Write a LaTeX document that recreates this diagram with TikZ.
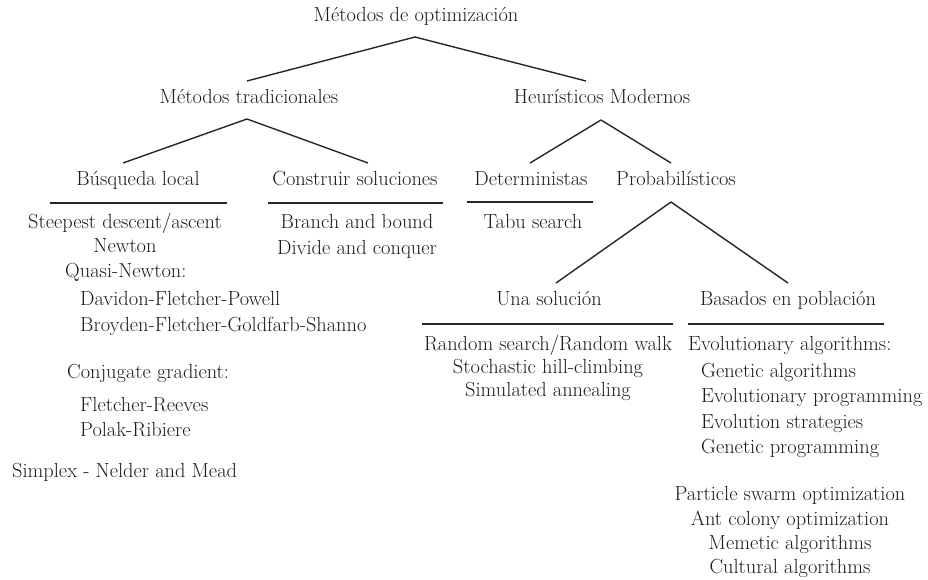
\documentclass[tikz,border=0pt]{standalone}
\usetikzlibrary{calc}
\definecolor{ink}{HTML}{1A1A26}
\definecolor{lin}{HTML}{262626}
\begin{document}
\begin{tikzpicture}[x=1pt,y=-1pt,
  lbl/.style={inner sep=0pt,text=ink,font=\fontsize{20.4}{24}\selectfont},
  c/.style={lbl,anchor=mid},
  l/.style={lbl,anchor=mid west},
  conn/.style={draw=lin,line width=1.4pt},
  rule/.style={draw=lin,line width=2pt}]
\useasboundingbox (0,0) rectangle (928,579);
% headers
\node[c] (root) at (416,19) {Métodos de optimización};
\node[c] (trad) at (249,101) {Métodos tradicionales};
\node[c] (heur) at (602,101) {Heurísticos Modernos};
\node[c] (busq) at (138,183) {Búsqueda local};
\node[c] (constr) at (355,183) {Construir soluciones};
\node[c] (det) at (531,183) {Deterministas};
\node[c] (prob) at (676,183) {Probabilísticos};
\node[c] (una) at (549,303) {Una solución};
\node[c] (bas) at (788,303) {Basados en población};
% connectors
\draw[conn] ($(root.mid)+(-1,18)$) -- ($(trad.mid)+(-2,-20)$);
\draw[conn] ($(root.mid)+(-1,18)$) -- ($(heur.mid)+(-16,-20)$);
\draw[conn] ($(trad.mid)+(-2,18)$) -- ($(busq.mid)+(-15,-20)$);
\draw[conn] ($(trad.mid)+(-2,18)$) -- ($(constr.mid)+(13,-20)$);
\draw[conn] ($(heur.mid)+(-1,19)$) -- ($(det.mid)+(-1,-20)$);
\draw[conn] ($(heur.mid)+(-1,19)$) -- ($(prob.mid)+(-5,-20)$);
\draw[conn] ($(prob.mid)+(-5,19)$) -- ($(una.mid)+(7,-20)$);
\draw[conn] ($(prob.mid)+(-5,19)$) -- ($(bas.mid)+(0,-20)$);
% rules
\draw[rule] ($(busq.mid)+(-88,20)$) -- ++(177,0);
\draw[rule] ($(constr.mid)+(-87,20)$) -- ++(175,0);
\draw[rule] ($(det.mid)+(-64,19)$) -- ++(126,0);
\draw[rule] ($(una.mid)+(-127,21)$) -- ++(251,0);
\draw[rule] ($(bas.mid)+(-100,21)$) -- ++(196,0);
% left list
\node[c] (steep) at (125,226) {Steepest descent/ascent};
\node[c] (newton) at (125,250) {Newton};
\node[l] (quasi) at (65,275) {Quasi-Newton:};
\node[l] (dfp) at (80,303) {Davidon-Fletcher-Powell};
\node[l] (bfgs) at (80,329) {Broyden-Fletcher-Goldfarb-Shanno};
\node[l] (conj) at (67,376) {Conjugate gradient:};
\node[l] (fr) at (80,409) {Fletcher-Reeves};
\node[l] (pr) at (80,434) {Polak-Ribiere};
\node[l] (simplex) at (12,475) {Simplex - Nelder and Mead};
% construir
\node[c] (branch) at (357,226) {Branch and bound};
\node[c] (divide) at (357,252) {Divide and conquer};
% deterministas
\node[c] (tabu) at (533,226) {Tabu search};
% una solucion
\node[c] (random) at (548,348) {Random search/Random walk};
\node[c] (stoch) at (548,371) {Stochastic hill-climbing};
\node[c] (sim) at (548,394) {Simulated annealing};
% basados en poblacion
\node[l] (evo) at (688,348) {Evolutionary algorithms:};
\node[l] (ga) at (701,375) {Genetic algorithms};
\node[l] (ep) at (701,400) {Evolutionary programming};
\node[l] (es) at (701,426) {Evolution strategies};
\node[l] (gp) at (701,451) {Genetic programming};
\node[c] (pso) at (790,498) {Particle swarm optimization};
\node[c] (aco) at (790,523) {Ant colony optimization};
\node[c] (mem) at (790,547) {Memetic algorithms};
\node[c] (cult) at (790,571) {Cultural algorithms};
\end{tikzpicture}
\end{document}
